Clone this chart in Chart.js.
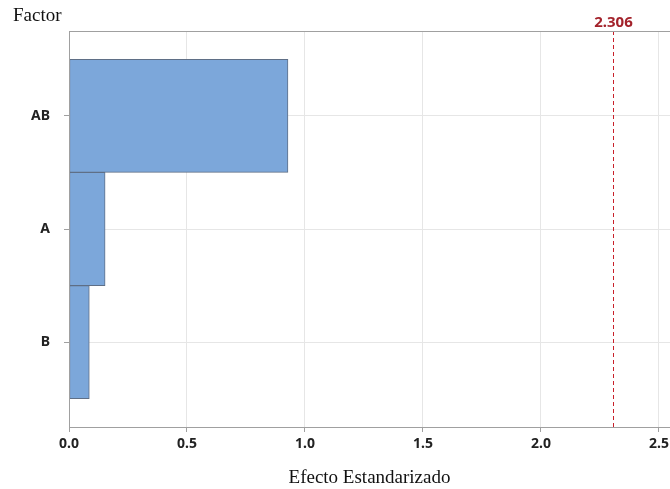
<!DOCTYPE html>
<html>
<head>
<meta charset="utf-8">
<script src="https://cdn.jsdelivr.net/npm/chart.js@4.4.0/dist/chart.umd.min.js"></script>
<style>
  html, body { margin: 0; padding: 0; background: #fff; }
  #wrap { width: 670px; height: 489px; position: relative; }
</style>
</head>
<body>
<div id="wrap"><canvas id="pareto"></canvas></div>
<script>
// Pareto of standardized effects
var factors = ['AB', 'A', 'B'];
var effects = [0.928, 0.153, 0.086];
var xTicks = [0, 0.5, 1.0, 1.5, 2.0, 2.5];
var critical = 2.306;

var refLine = {
  id: 'refLine',
  afterDatasetsDraw: function(chart) {
    var c = chart.ctx, a = chart.chartArea;
    var x = Math.round(chart.scales.x.getPixelForValue(critical)) + 0.5;
    c.save();
    c.strokeStyle = '#c8202a';
    c.lineWidth = 1;
    c.setLineDash([4, 3]);
    c.beginPath();
    c.moveTo(x, a.top);
    c.lineTo(x, a.bottom);
    c.stroke();
    c.setLineDash([]);
    c.fillStyle = '#a3222b';
    c.font = 'bold 15px "Noto Sans"';
    c.textAlign = 'center';
    c.textBaseline = 'alphabetic';
    c.fillText(critical.toFixed(3), x, 27);
    // frame
    c.strokeStyle = '#a0a0a0';
    c.strokeRect(Math.round(a.left) + 0.5, Math.round(a.top) + 0.5, a.right - a.left, a.bottom - a.top);
    // axis title on the left
    c.fillStyle = '#111';
    c.font = '19px "Liberation Serif"';
    c.textAlign = 'left';
    c.fillText('Factor', 13, 21);
    c.restore();
  }
};

new Chart(document.getElementById('pareto'), {
  type: 'bar',
  data: {
    datasets: [{
      data: effects.map(function(v, i) { return { x: v, y: i }; }),
      backgroundColor: '#7ca7da',
      borderColor: '#5f6f86',
      borderWidth: 1,
      borderSkipped: false,
      barPercentage: 1,
      categoryPercentage: 1
    }]
  },
  options: {
    indexAxis: 'y',
    responsive: true,
    maintainAspectRatio: false,
    animation: false,
    layout: { padding: { top: 31, right: 0, bottom: 0, left: 0 } },
    plugins: {
      legend: { display: false },
      tooltip: { enabled: false }
    },
    scales: {
      x: {
        type: 'linear',
        min: 0,
        max: 2.547,
        afterBuildTicks: function(scale) {
          scale.ticks = xTicks.map(function(v) { return { value: v }; });
        },
        afterFit: function(scale) {
          scale.height = 62;
          scale.paddingRight = 0;   // let the last label run to the edge
        },
        ticks: {
          color: '#222',
          font: { family: 'Noto Sans', size: 14, weight: 'bold' },
          padding: 4,
          maxRotation: 0,
          callback: function(v) { return v.toFixed(1); }
        },
        grid: { color: '#e6e6e6', tickColor: '#a0a0a0', tickLength: 5 },
        border: { color: '#a0a0a0' },
        title: {
          display: true,
          text: 'Efecto Estandarizado',
          color: '#111',
          font: { family: 'Liberation Serif', size: 19 },
          padding: { top: 0, bottom: 0 }
        }
      },
      y: {
        type: 'linear',
        reverse: true,
        offset: false,
        min: -0.75,
        max: 2.75,
        afterBuildTicks: function(scale) {
          scale.ticks = factors.map(function(f, i) { return { value: i }; });
        },
        afterFit: function(scale) { scale.width = 69; },
        ticks: {
          color: '#222',
          font: { family: 'Noto Sans', size: 14, weight: 'bold' },
          padding: 14,
          callback: function(v) { return factors[v]; }
        },
        grid: { offset: false, color: '#e6e6e6', tickColor: '#a0a0a0', tickLength: 5 },
        border: { color: '#a0a0a0' }
      }
    }
  },
  plugins: [refLine]
});
</script>
</body>
</html>
